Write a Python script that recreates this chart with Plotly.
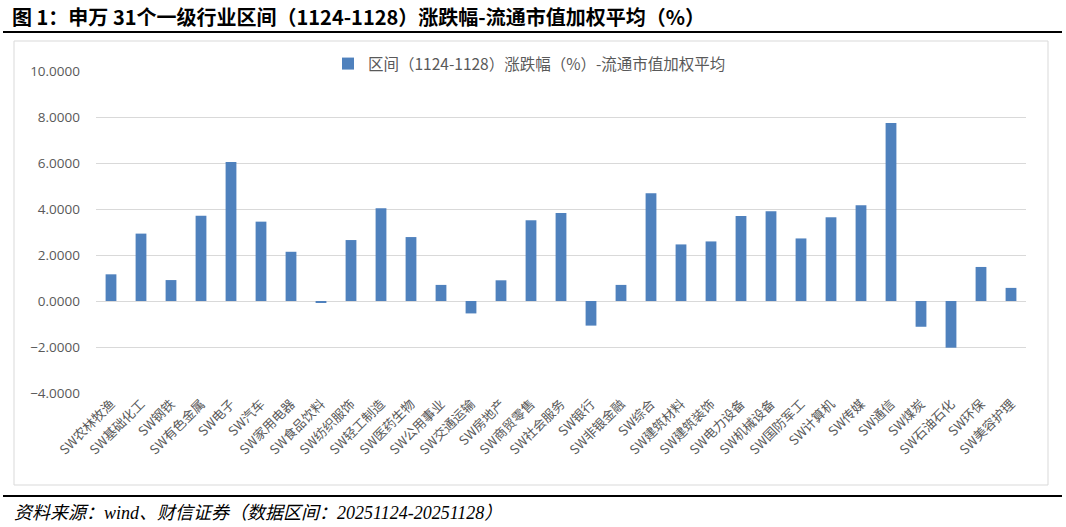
import plotly.graph_objects as go

categories = ["SW农林牧渔", "SW基础化工", "SW钢铁", "SW有色金属", "SW电子", "SW汽车", "SW家用电器",
              "SW食品饮料", "SW纺织服饰", "SW轻工制造", "SW医药生物", "SW公用事业", "SW交通运输",
              "SW房地产", "SW商贸零售", "SW社会服务", "SW银行", "SW非银金融", "SW综合", "SW建筑材料",
              "SW建筑装饰", "SW电力设备", "SW机械设备", "SW国防军工", "SW计算机", "SW传媒", "SW通信",
              "SW煤炭", "SW石油石化", "SW环保", "SW美容护理"]
values = [1.16, 2.93, 0.91, 3.71, 6.04, 3.45, 2.14,
          -0.07, 2.65, 4.03, 2.78, 0.70, -0.54,
          0.90, 3.51, 3.83, -1.07, 0.70, 4.68, 2.46,
          2.59, 3.70, 3.90, 2.72, 3.64, 4.16, 7.74,
          -1.12, -2.03, 1.48, 0.57]
series_name = "区间（1124-1128）涨跌幅（%）-流通市值加权平均"
title_text = "图 1：申万 31个一级行业区间（1124-1128）涨跌幅-流通市值加权平均（%）"
source_text = "资料来源：wind、财信证券（数据区间：20251124-20251128）"
y_ticks = [-4, -2, 0, 2, 4, 6, 8, 10]

W, H = 1066, 527
L, R, T, B = 96, 1026, 71, 393


def px(x):
    return (x - L) / (R - L)


def py(y):
    return (B - y) / (B - T)


FONT = "Noto Sans CJK SC"

fig = go.Figure()
fig.add_trace(go.Bar(x=categories, y=values, name=series_name,
                     marker=dict(color="#4f81bd", line=dict(width=0))))

fig.update_layout(
    width=W, height=H,
    margin=dict(l=L, r=W - R, t=T, b=H - B, pad=0, autoexpand=False),
    paper_bgcolor="white", plot_bgcolor="white",
    bargap=0.64,
    showlegend=True,
    legend=dict(orientation="h", x=px(328), xanchor="left", y=py(64), yanchor="middle",
                font=dict(family=FONT, size=15.5, color="#595959"),
                bgcolor="rgba(0,0,0,0)", traceorder="normal"),
    font=dict(family=FONT, color="#595959"),
    xaxis=dict(type="category", tickangle=-45, showgrid=False, showline=False, ticks="",
               automargin=False,
               tickfont=dict(family=FONT, size=13, color="#595959"), fixedrange=True,
               zeroline=False),
    yaxis=dict(range=[-4, 10], tickvals=y_ticks, tickformat=".4f", showgrid=True,
               automargin=False,
               gridcolor="#d9d9d9", gridwidth=1, zeroline=True, zerolinecolor="#d9d9d9",
               zerolinewidth=1, showline=False, ticks="", ticklabelstandoff=15,
               tickfont=dict(family="Open Sans", size=13.5, color="#595959")),
    shapes=[
        dict(type="rect", xref="paper", yref="paper", x0=px(14), x1=px(1048), y0=py(485), y1=py(41),
             line=dict(color="#d9d9d9", width=1), layer="below"),
        dict(type="line", xref="paper", yref="paper", x0=px(3), x1=px(1062), y0=py(32), y1=py(32),
             line=dict(color="black", width=2)),
        dict(type="line", xref="paper", yref="paper", x0=px(3), x1=px(1062), y0=py(496), y1=py(496),
             line=dict(color="black", width=2)),
    ],
    annotations=[
        dict(text="<b>" + title_text + "</b>", xref="paper", yref="paper", x=px(10), y=py(16),
             xanchor="left", yanchor="middle", showarrow=False,
             font=dict(family=FONT, size=20, color="black")),
        dict(text="<i>" + source_text + "</i>", xref="paper", yref="paper", x=px(12), y=py(513),
             xanchor="left", yanchor="middle", showarrow=False,
             font=dict(family="Liberation Serif, " + FONT, size=18, color="black")),
    ],
)

fig.write_html("out.html", config={"displayModeBar": False},
               post_script="document.body.style.margin='0';document.body.style.overflow='hidden';")
